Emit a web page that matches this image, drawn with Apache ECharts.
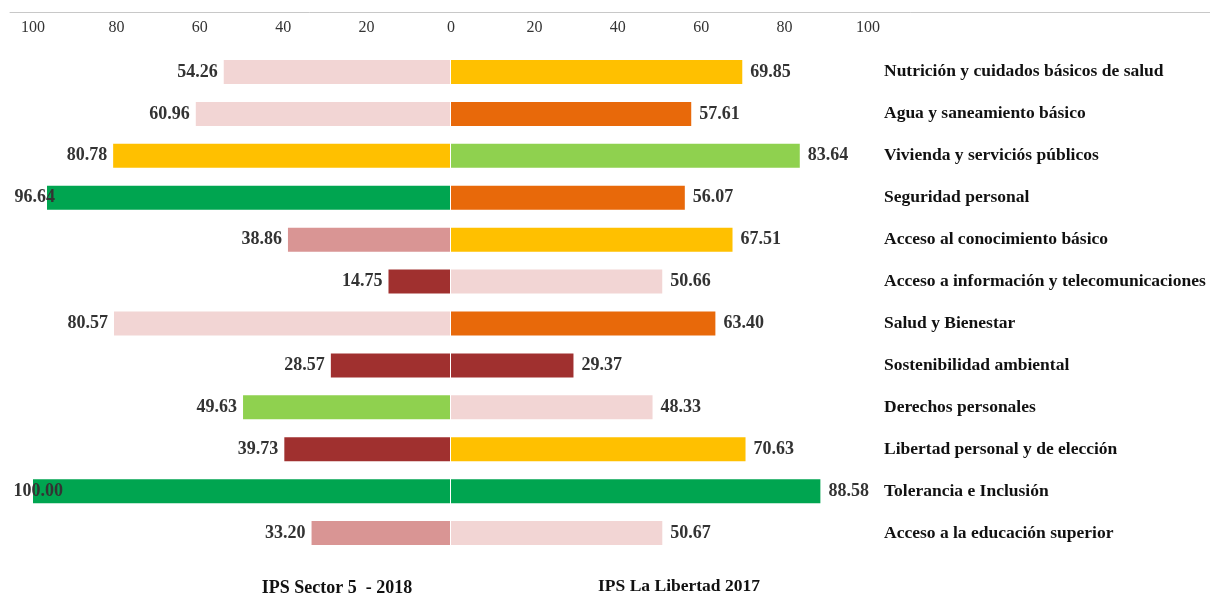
<!DOCTYPE html>
<html>
<head>
<meta charset="utf-8">
<script src="https://cdn.jsdelivr.net/npm/echarts@6/dist/echarts.min.js"></script>
<style>
  html, body { margin: 0; padding: 0; background: #fff; }
  #chart { width: 1210px; height: 604px; }
</style>
</head>
<body>
<div id="chart"></div>
<script>
// categorias (de arriba hacia abajo)
var categories = [
  'Nutrición y cuidados básicos de salud',
  'Agua y saneamiento básico',
  'Vivienda y serviciós públicos',
  'Seguridad personal',
  'Acceso al conocimiento básico',
  'Acceso a información y telecomunicaciones',
  'Salud y Bienestar',
  'Sostenibilidad ambiental',
  'Derechos personales',
  'Libertad personal y de elección',
  'Tolerancia e Inclusión',
  'Acceso a la educación superior'
]
var sector5 = [54.26, 60.96, 80.78, 96.64, 38.86, 14.75, 80.57, 28.57, 49.63, 39.73, 100.00, 33.20]
var libertad = [69.85, 57.61, 83.64, 56.07, 67.51, 50.66, 63.40, 29.37, 48.33, 70.63, 88.58, 50.67]
var seriesNames = ['IPS Sector 5  - 2018', 'IPS La Libertad 2017']

// colores por nivel
var C = {
  rosa: '#f2d5d4',
  rosaMedio: '#d99594',
  rojo: '#a0302f',
  naranja: '#e8690a',
  amarillo: '#ffc000',
  verdeClaro: '#8fd14f',
  verde: '#00a550'
}
var sector5Colors = [C.rosa, C.rosa, C.amarillo, C.verde, C.rosaMedio, C.rojo, C.rosa, C.rojo, C.verdeClaro, C.rojo, C.verde, C.rosaMedio]
var libertadColors = [C.amarillo, C.naranja, C.verdeClaro, C.naranja, C.amarillo, C.rosa, C.naranja, C.rojo, C.rosa, C.amarillo, C.verde, C.rosa]

var serif = '"Liberation Serif", "DejaVu Serif", serif'

var chart = echarts.init(document.getElementById('chart'))

var valueLabel = {
  show: true,
  fontFamily: serif,
  fontSize: 18,
  fontWeight: 'bold',
  color: '#333',
  formatter: function (p) { return p.value.toFixed(2) }
}
var tickLabel = { inside: true, margin: 8, fontFamily: serif, fontSize: 16, color: '#333' }

var option = {
  backgroundColor: '#fff',
  animation: false,
  title: [
    {
      text: seriesNames[0], left: 332, top: 574, textAlign: 'center',
      textStyle: { fontFamily: serif, fontSize: 18, fontWeight: 'bold', color: '#111' }
    },
    {
      text: seriesNames[1], left: 674, top: 572, textAlign: 'center',
      textStyle: { fontFamily: serif, fontSize: 17.5, fontWeight: 'bold', color: '#111' }
    }
  ],
  grid: [
    { left: 33, right: 760, top: 51, bottom: 50 },
    { left: 451, right: 342, top: 51, bottom: 50 },
    // solo para la linea superior a lo ancho
    { left: 10, right: 0, top: 12, height: 1 }
  ],
  xAxis: [
    {
      gridIndex: 0, type: 'value', inverse: true, min: 0, max: 100, interval: 20,
      position: 'top', offset: 39,
      axisLine: { show: false }, axisTick: { show: false }, splitLine: { show: false },
      axisLabel: Object.assign({
        formatter: function (v) { return v === 0 ? '' : v }
      }, tickLabel)
    },
    {
      gridIndex: 1, type: 'value', min: 0, max: 100, interval: 20,
      position: 'top', offset: 39,
      axisLine: { show: false }, axisTick: { show: false }, splitLine: { show: false },
      axisLabel: tickLabel
    },
    {
      gridIndex: 2, type: 'value', position: 'top',
      axisLine: { show: true, lineStyle: { color: '#c8c8c8', width: 1 } },
      axisTick: { show: false }, axisLabel: { show: false }, splitLine: { show: false }
    }
  ],
  yAxis: [
    {
      gridIndex: 0, type: 'category', inverse: true, data: categories,
      axisLine: { show: false }, axisTick: { show: false }, axisLabel: { show: false }
    },
    {
      gridIndex: 1, type: 'category', inverse: true, data: categories, position: 'right',
      axisLine: { show: false }, axisTick: { show: false },
      axisLabel: { margin: 16, align: 'left', fontFamily: serif, fontSize: 17.5, fontWeight: 'bold', color: '#111' }
    },
    { gridIndex: 2, type: 'category', show: false }
  ],
  series: [
    {
      name: seriesNames[0], type: 'bar', xAxisIndex: 0, yAxisIndex: 0, barWidth: 24,
      data: sector5.map(function (v, i) {
        var item = { value: v, itemStyle: { color: sector5Colors[i] } }
        // en el original las etiquetas largas quedan pegadas al borde
        if (v >= 99) item.label = { offset: [36, 0] }
        else if (v >= 90) item.label = { offset: [14, 0] }
        return item
      }),
      label: Object.assign({ position: 'left', distance: 6 }, valueLabel)
    },
    {
      name: seriesNames[1], type: 'bar', xAxisIndex: 1, yAxisIndex: 1, barWidth: 24,
      data: libertad.map(function (v, i) {
        return { value: v, itemStyle: { color: libertadColors[i] } }
      }),
      label: Object.assign({ position: 'right', distance: 8 }, valueLabel)
    }
  ]
}

chart.setOption(option)
</script>
</body>
</html>
